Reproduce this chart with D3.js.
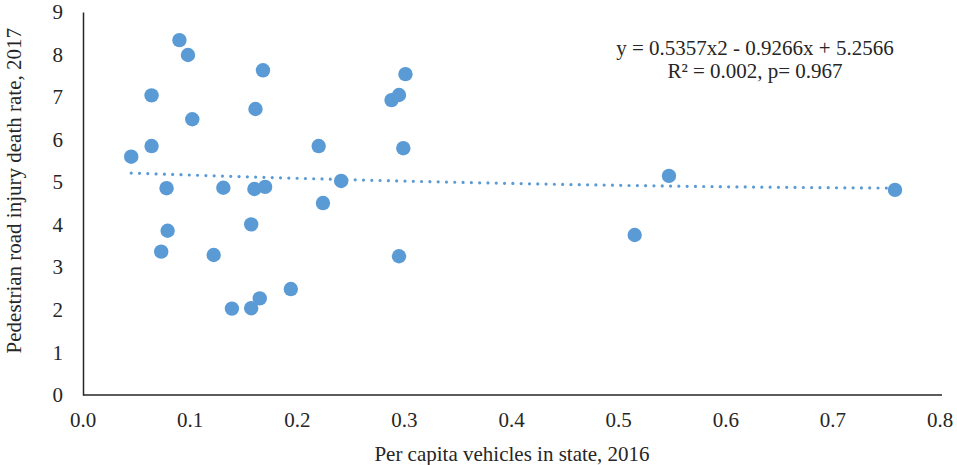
<!DOCTYPE html>
<html>
<head>
<meta charset="utf-8">
<script src="https://cdn.jsdelivr.net/npm/d3@7"></script>
<style>
  body { margin: 0; background: #fff; }
  svg { display: block; font-family: "Liberation Serif", "Times New Roman", serif; }
  .tick-label, .axis-title, .equation { fill: #262626; font-size: 21px; }
</style>
</head>
<body>
<div id="chart"></div>
<script>
// per capita vehicles (x) and pedestrian death rate (y), one pair per state
const vehicles = [0.045, 0.064, 0.064, 0.090, 0.098, 0.102, 0.078, 0.079, 0.073, 0.122,
  0.131, 0.139, 0.157, 0.165, 0.157, 0.161, 0.168, 0.160, 0.170, 0.194,
  0.220, 0.224, 0.241, 0.288, 0.295, 0.301, 0.299, 0.295, 0.515, 0.547, 0.758];
const death_rate = [5.60, 7.04, 5.85, 8.34, 7.99, 6.48, 4.86, 3.86, 3.37, 3.29,
  4.87, 2.03, 2.04, 2.27, 4.01, 6.72, 7.63, 4.84, 4.89, 2.49,
  5.85, 4.51, 5.03, 6.93, 7.05, 7.54, 5.80, 3.26, 3.76, 5.15, 4.82];

const x_ticks = [0.0, 0.1, 0.2, 0.3, 0.4, 0.5, 0.6, 0.7, 0.8];
const y_ticks = [0, 1, 2, 3, 4, 5, 6, 7, 8, 9];

// polynomial trendline coefficients as shown on the chart: a*x^2 + b*x + c
const trend_coef = [0.5357, -0.9266, 5.2566];
const equation_lines = ["y = 0.5357x2 - 0.9266x + 5.2566", "R² = 0.002, p= 0.967"];

const x_title = "Per capita vehicles in state, 2016";
const y_title = "Pedestrian road injury death rate, 2017";

const width = 957, height = 465;
const margin = {left: 83, right: 17, top: 12, bottom: 70};
const color = "#5b9bd5";

const svg = d3.select("#chart").append("svg")
    .attr("width", width)
    .attr("height", height);

const x = d3.scaleLinear()
    .domain([0, 0.8])
    .range([margin.left, width - margin.right]);

const y = d3.scaleLinear()
    .domain([0, 9])
    .range([height - margin.bottom, margin.top]);

// axes: lines only, no tick marks (labels drawn separately)
const x_axis = d3.axisBottom(x).tickValues(x_ticks).tickSize(0).tickFormat("");
const y_axis = d3.axisLeft(y).tickValues(y_ticks).tickSize(0).tickFormat("");

svg.append("g")
    .attr("transform", `translate(0,${y(0)})`)
    .call(x_axis)
    .call(g => g.select(".domain").attr("stroke", "#262626").attr("stroke-width", 1.5)
      .attr("d", `M${x(0)},0H${x(0.8) + 2}`));

svg.append("g")
    .attr("transform", `translate(${x(0)},0)`)
    .call(y_axis)
    .call(g => g.select(".domain").attr("stroke", "#262626").attr("stroke-width", 1.5));

svg.append("g")
  .selectAll("text")
  .data(x_ticks)
  .join("text")
    .classed("tick-label", true)
    .attr("x", d => x(d))
    .attr("y", y(0) + 32)
    .attr("text-anchor", "middle")
    .text(d => d3.format(".1f")(d));

svg.append("g")
  .selectAll("text")
  .data(y_ticks)
  .join("text")
    .classed("tick-label", true)
    .attr("x", x(0) - 20)
    .attr("y", d => y(d))
    .attr("dy", "0.34em")
    .attr("text-anchor", "end")
    .text(d => d);

// axis titles
svg.append("text")
    .classed("axis-title", true)
    .attr("x", 512)
    .attr("y", 461)
    .attr("text-anchor", "middle")
    .text(x_title);

svg.append("text")
    .classed("axis-title", true)
    .attr("transform", `translate(21,${y(4.8)}) rotate(-90)`)
    .attr("text-anchor", "middle")
    .text(y_title);

// trendline
const [a, b, c] = trend_coef;
const [x_min, x_max] = d3.extent(vehicles);
const trend = d3.range(0, 101).map(i => {
  const xv = x_min + (x_max - x_min) * i / 100;
  return [xv, a * xv * xv + b * xv + c];
});

svg.append("path")
    .datum(trend)
    .attr("fill", "none")
    .attr("stroke", color)
    .attr("stroke-width", 3.2)
    .attr("stroke-linecap", "round")
    .attr("stroke-dasharray", "0 8.3")
    .attr("d", d3.line().x(d => x(d[0])).y(d => y(d[1])));

// points
svg.append("g")
  .selectAll("circle")
  .data(d3.zip(vehicles, death_rate))
  .join("circle")
    .attr("cx", d => x(d[0]))
    .attr("cy", d => y(d[1]))
    .attr("r", 7.2)
    .attr("fill", color);

// equation label
svg.append("g")
  .selectAll("text")
  .data(equation_lines)
  .join("text")
    .classed("equation", true)
    .attr("x", 755)
    .attr("y", (d, i) => 55 + i * 23)
    .attr("text-anchor", "middle")
    .text(d => d);
</script>
</body>
</html>
